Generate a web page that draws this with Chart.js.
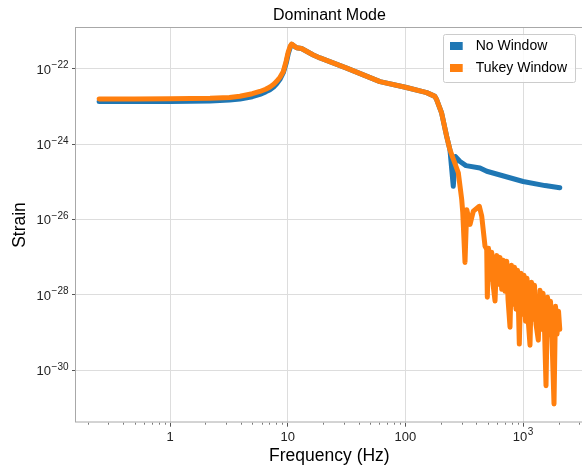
<!DOCTYPE html>
<html><head><meta charset="utf-8">
<script src="https://cdn.jsdelivr.net/npm/chart.js@4.4.0/dist/chart.umd.min.js"></script>
<style>
html,body{margin:0;padding:0;overflow:hidden;background:#fff;width:582px;height:466px;}
#wrap{position:absolute;left:0;top:0;width:600px;height:466px;}
</style></head><body>
<div id="wrap"><canvas id="c" width="600" height="466"></canvas></div>
<script>
const chartTitle = 'Dominant Mode';
const xLabel = 'Frequency (Hz)';
const yLabel = 'Strain';
const seriesNames = ['No Window', 'Tukey Window'];
const seriesColors = ['#1f77b4', '#ff7f0e'];

const noWindowFreq = [0.25, 0.5, 1, 1.5, 2.19, 3.2, 3.93, 5, 5.8, 6.5, 7.07, 7.6, 8.06, 8.6, 9.18, 9.7, 10.1, 10.5, 10.8, 11.9, 13.1, 16.5, 18.8, 31.7, 60.8, 100,
  151.7, 178, 184.5, 203, 224, 239, 255, 266.5, 291, 327, 430, 491, 1000, 1535, 2048];
const noWindowStrain = [1.35e-23, 1.35e-23, 1.36e-23, 1.38e-23, 1.41e-23, 1.48e-23, 1.58e-23, 1.82e-23, 2.1e-23, 2.45e-23, 2.8e-23, 3.3e-23, 4.0e-23,
  5.3e-23, 7.9e-23, 1.4e-22, 2.5e-22, 3.7e-22, 4.47e-22, 3.63e-22, 3.47e-22, 2.34e-22, 1.95e-22, 1.05e-22, 4.57e-23, 3.24e-23,
  2.34e-23, 1.86e-23, 1.51e-23, 6.76e-24, 1.62e-24, 7.08e-25, 7.59e-26, 4.68e-25, 3.47e-25, 2.69e-25,
  2.34e-25, 1.91e-25, 1.02e-25, 7.94e-26, 6.92e-26];

const tukeyFreq = [0.25, 0.5, 1, 1.5, 2.19, 3.2, 3.93, 5, 5.8, 6.5, 7.07, 7.6, 8.06, 8.6, 9.18, 9.7, 10.1, 10.5, 10.8, 11.9, 13.1, 16.5, 18.8, 31.7, 60.8, 100,
  151.7, 178, 184.5, 203, 224, 239, 281.5, 300.8, 307, 320.8, 331.9, 354, 377.6, 424.6, 444.8, 474.6,
  490.7, 496.5, 508.2, 523.4, 541.1, 555.1, 577.3, 596.8, 618.2, 636.6, 658, 678.9, 702, 725.6, 744.3, 773.9, 796.9, 820.7, 845.2, 870.6,
  896.5, 928.4, 960, 988.3, 1017.7, 1048, 1079, 1111, 1144, 1179, 1214, 1250, 1287, 1346, 1392, 1433, 1476, 1520,
  1565, 1612, 1660, 1709, 1760, 1830, 1885, 1941, 1999, 2048];
const tukeyStrain = [1.58e-23, 1.59e-23, 1.60e-23, 1.62e-23, 1.65e-23, 1.73e-23, 1.87e-23, 2.19e-23, 2.51e-23, 2.88e-23, 3.31e-23, 3.9e-23, 4.68e-23,
  6.0e-23, 8.5e-23, 1.6e-22, 2.8e-22, 4.0e-22, 4.57e-22, 3.63e-22, 3.47e-22, 2.34e-22, 1.95e-22, 1.05e-22, 4.57e-23, 3.24e-23,
  2.34e-23, 1.86e-23, 1.51e-23, 6.76e-24, 1.62e-24, 7.08e-25, 1.74e-25, 3.39e-26, 1.55e-26, 7.24e-28, 1.82e-26, 7.41e-27, 1.66e-26, 2.24e-26, 1.23e-26, 1.95e-27,
  1.60e-27, 8.59e-29, 1.71e-27, 2.58e-28, 1.34e-27, 1.90e-28, 6.85e-29, 1.11e-27, 1.90e-28, 9.84e-28, 1.40e-28, 8.20e-28, 1.24e-28, 7.71e-28, 7.60e-29, 1.38e-29, 6.04e-28, 5.60e-29, 5.35e-28, 4.13e-29,
  4.46e-28, 4.89e-30, 3.72e-28, 3.04e-29, 3.29e-28, 1.99e-29, 2.74e-28, 1.66e-29, 4.59e-30, 2.14e-28, 2.24e-29, 1.79e-28, 1.66e-29, 6.24e-30, 1.32e-28, 1.22e-29, 1.10e-28, 1.22e-29,
  3.84e-31, 8.59e-29, 8.99e-30, 6.73e-29, 6.62e-30, 1.26e-31, 4.95e-29, 8.99e-30, 3.66e-29, 1.22e-29];

const xMajorTicks = [1, 10, 100, 1000];
const xTickBases = ['1', '10', '100', '10'];
const xTickExponents = ['', '', '', '3'];
const xMinorTicks = [0.2, 0.3, 0.4, 0.5, 0.6, 0.7, 0.8, 0.9, 2, 3, 4, 5, 6, 7, 8, 9,
  20, 30, 40, 50, 60, 70, 80, 90, 200, 300, 400, 500, 600, 700, 800, 900, 2000, 3000];
const yMajorTicks = [1e-30, 1e-28, 1e-26, 1e-24, 1e-22];
const yTickBases = ['10', '10', '10', '10', '10'];
const yTickExponents = ['\u221230', '\u221228', '\u221226', '\u221224', '\u221222'];
const xRange = [0.159, 3214];
const yRange = [4.27e-32, 1.27e-21];

const FONT = '"Liberation Sans", Arial, Helvetica, sans-serif';
const TICK_SIZE = 13, EXP_SIZE = 10;

const toPoints = (xs, ys) => xs.map((x, i) => ({x: x, y: ys[i]}));

const minorTickPlugin = {
  id: 'minorTicks',
  afterDraw(chart) {
    const s = chart.scales.x, ctx = chart.ctx;
    ctx.save();
    ctx.strokeStyle = '#555555';
    ctx.lineWidth = 0.8;
    xMinorTicks.forEach(v => {
      const px = Math.round(s.getPixelForValue(v)) + 0.5;
      if (px < s.left || px > s.right) return;
      ctx.beginPath();
      ctx.moveTo(px, s.top);
      ctx.lineTo(px, s.top + 2);
      ctx.stroke();
    });
    ctx.restore();
  }
};

function drawPowerLabel(ctx, base, exp, x, baseline, align) {
  ctx.font = TICK_SIZE + 'px ' + FONT;
  const wb = ctx.measureText(base).width;
  ctx.font = EXP_SIZE + 'px ' + FONT;
  const we = exp ? ctx.measureText(exp).width + 0.5 : 0;
  const total = wb + we;
  let left = align === 'right' ? x - total : x - total / 2;
  ctx.textAlign = 'left';
  ctx.textBaseline = 'alphabetic';
  ctx.font = TICK_SIZE + 'px ' + FONT;
  ctx.fillText(base, left, baseline);
  if (exp) {
    ctx.font = EXP_SIZE + 'px ' + FONT;
    ctx.fillText(exp, left + wb + 0.5, baseline - 5.5);
  }
}

const tickLabelPlugin = {
  id: 'tickLabels',
  afterDraw(chart) {
    const ctx = chart.ctx, sx = chart.scales.x, sy = chart.scales.y;
    ctx.save();
    ctx.fillStyle = '#222222';
    xMajorTicks.forEach((v, i) => {
      const px = sx.getPixelForValue(v);
      drawPowerLabel(ctx, xTickBases[i], xTickExponents[i], px, sx.top + 18, 'center');
    });
    yMajorTicks.forEach((v, i) => {
      const py = sy.getPixelForValue(v);
      drawPowerLabel(ctx, yTickBases[i], yTickExponents[i], sy.right - 7.5, py + 5, 'right');
    });
    ctx.restore();
  }
};

const framePlugin = {
  id: 'frame',
  afterDraw(chart) {
    const a = chart.chartArea, ctx = chart.ctx;
    ctx.save();
    ctx.strokeStyle = '#a8a8a8';
    ctx.lineWidth = 1;
    ctx.strokeRect(Math.round(a.left) - 0.5, Math.round(a.top) + 0.5, Math.round(a.right - a.left) + 1, Math.round(a.bottom - a.top) - 0.5);
    ctx.restore();
  }
};

const legendPlugin = {
  id: 'boxLegend',
  afterDatasetsDraw(chart) {
    const a = chart.chartArea, ctx = chart.ctx;
    const w = 132, h = 48;
    const x = a.right - 7.5 - w, y = a.top + 6.7;
    ctx.save();
    ctx.fillStyle = 'rgba(255,255,255,0.85)';
    ctx.strokeStyle = '#cccccc';
    ctx.lineWidth = 1;
    ctx.beginPath();
    ctx.roundRect(Math.round(x) + 0.5, Math.round(y) + 0.5, w, h, 2);
    ctx.fill();
    ctx.stroke();
    seriesNames.forEach((name, i) => {
      const cy = y + 12 + i * 22;
      ctx.fillStyle = seriesColors[i];
      ctx.fillRect(x + 6.7, cy - 4, 12.7, 8);
      ctx.fillStyle = '#000';
      ctx.font = '14px ' + FONT;
      ctx.textBaseline = 'middle';
      ctx.textAlign = 'left';
      ctx.fillText(name, x + 32.4, cy);
    });
    ctx.restore();
  }
};

new Chart(document.getElementById('c'), {
  type: 'line',
  data: {
    datasets: [
      {label: seriesNames[0], data: toPoints(noWindowFreq, noWindowStrain), borderColor: seriesColors[0], backgroundColor: seriesColors[0],
       borderWidth: 5, pointRadius: 0, tension: 0, borderJoinStyle: 'round', borderCapStyle: 'round', order: 2},
      {label: seriesNames[1], data: toPoints(tukeyFreq, tukeyStrain), borderColor: seriesColors[1], backgroundColor: seriesColors[1],
       borderWidth: 5, pointRadius: 0, tension: 0, borderJoinStyle: 'round', borderCapStyle: 'round', order: 1}
    ]
  },
  options: {
    responsive: false,
    animation: false,
    devicePixelRatio: 1,
    layout: {padding: {left: 0, top: 0, right: 17.2, bottom: 0}},
    plugins: {
      legend: {display: false},
      tooltip: {enabled: false},
      title: {display: true, text: chartTitle, fullSize: false, color: '#000',
        font: {family: FONT, size: 16, weight: 'normal', lineHeight: 1.2}, padding: {top: 5.5, bottom: 2.6}}
    },
    scales: {
      x: {
        type: 'logarithmic', min: xRange[0], max: xRange[1],
        afterBuildTicks: s => { s.ticks = xMajorTicks.map(v => ({value: v})); },
        afterFit: s => { s.height = 43.3; },
        ticks: {display: false},
        grid: {color: '#dddddd', lineWidth: 1, tickLength: 4, tickColor: '#555555'},
        border: {display: false},
        title: {display: true, text: xLabel, color: '#000', font: {family: FONT, size: 17.5, lineHeight: 1}, padding: {top: 0, bottom: 1}}
      },
      y: {
        type: 'logarithmic', min: yRange[0], max: yRange[1],
        afterBuildTicks: s => { s.ticks = yMajorTicks.map(v => ({value: v})); },
        afterFit: s => { s.width = 76; },
        ticks: {display: false},
        grid: {color: '#dddddd', lineWidth: 1, tickLength: 4, tickColor: '#555555'},
        border: {display: false},
        title: {display: true, text: yLabel, color: '#000', font: {family: FONT, size: 17.5, lineHeight: 1}, padding: {top: 11.8, bottom: 0}}
      }
    }
  },
  plugins: [minorTickPlugin, framePlugin, tickLabelPlugin, legendPlugin]
});
</script>
</body></html>
